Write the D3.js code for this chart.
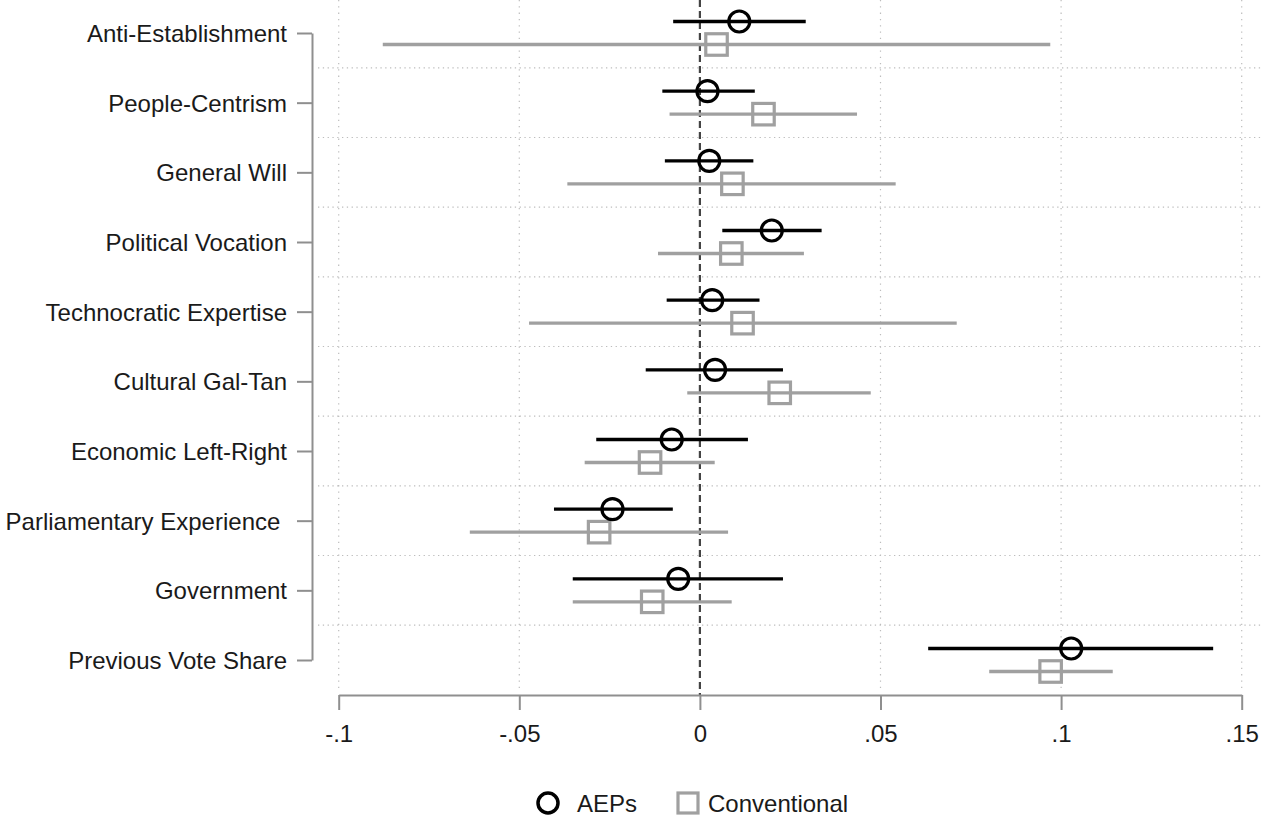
<!DOCTYPE html>
<html>
<head>
<meta charset="utf-8">
<script src="https://cdn.jsdelivr.net/npm/d3@7"></script>
<style>
  body { margin: 0; background: #fff; }
  svg { display: block; font-family: "Liberation Sans", Arial, sans-serif; }
</style>
</head>
<body>
<svg id="chart" width="1263" height="816"></svg>
<script>
//Row labels, top to bottom//
var variables = ["Anti-Establishment", "People-Centrism", "General Will", "Political Vocation",
  "Technocratic Expertise", "Cultural Gal-Tan", "Economic Left-Right", "Parliamentary Experience\u00a0",
  "Government", "Previous Vote Share"];

//AEPs: estimate and confidence interval//
var aepEst = [0.0109, 0.0021, 0.0026, 0.0199, 0.0034, 0.0042, -0.0078, -0.0242, -0.0060, 0.1028];
var aepLo  = [-0.0074, -0.0104, -0.0097, 0.0062, -0.0092, -0.0150, -0.0287, -0.0404, -0.0352, 0.0632];
var aepHi  = [0.0293, 0.0152, 0.0148, 0.0337, 0.0165, 0.0230, 0.0133, -0.0075, 0.0230, 0.1421];

//Conventional parties: estimate and confidence interval//
var convEst = [0.0046, 0.0176, 0.0090, 0.0087, 0.0118, 0.0221, -0.0138, -0.0279, -0.0132, 0.0971];
var convLo  = [-0.0878, -0.0084, -0.0367, -0.0116, -0.0473, -0.0035, -0.0319, -0.0637, -0.0352, 0.0801];
var convHi  = [0.0970, 0.0435, 0.0542, 0.0288, 0.0711, 0.0473, 0.0041, 0.0078, 0.0088, 0.1143];

var xTicks = [-0.1, -0.05, 0, 0.05, 0.1, 0.15];
var xTickLabels = ["-.1", "-.05", "0", ".05", ".1", ".15"];

var black = "#000";
var gray = "#a0a0a0";
var axisGray = "#8f8f8f";
var fontSize = "24px";

var svg = d3.select("#chart");

var x = d3.scaleLinear().domain([-0.1, 0.15]).range([338.7, 1241.7]);
var y = d3.scalePoint().domain(variables).range([33, 660]);
var step = y.step();
var off = 11.5;

//Grid lines between rows//
var grid = svg.append("g");
grid.selectAll("line.h")
  .data(variables)
  .enter()
  .append("line")
  .attr("x1", 318)
  .attr("x2", 1263)
  .attr("y1", function(d) { return y(d) - step / 2; })
  .attr("y2", function(d) { return y(d) - step / 2; })
  .attr("stroke", "#bdbdbd")
  .attr("stroke-width", 1.2)
  .attr("stroke-dasharray", "1.3,3.5");

grid.selectAll("line.v")
  .data(xTicks.filter(function(d) { return d !== 0; }))
  .enter()
  .append("line")
  .attr("x1", function(d) { return x(d); })
  .attr("x2", function(d) { return x(d); })
  .attr("y1", 0)
  .attr("y2", 688)
  .attr("stroke", "#bdbdbd")
  .attr("stroke-width", 1.2)
  .attr("stroke-dasharray", "1.3,5");

//Zero reference line//
svg.append("line")
  .attr("x1", x(0))
  .attr("x2", x(0))
  .attr("y1", 0)
  .attr("y2", 695)
  .attr("stroke", "#444")
  .attr("stroke-width", 2.2)
  .attr("stroke-dasharray", "7,4");

//Y axis//
var yAxis = svg.append("g")
  .attr("transform", "translate(312,0)")
  .call(d3.axisLeft(y).tickSize(15).tickSizeOuter(0).tickPadding(10));
yAxis.select(".domain").attr("stroke", axisGray).attr("stroke-width", 2);
yAxis.selectAll(".tick line").attr("stroke", axisGray).attr("stroke-width", 2);
yAxis.selectAll(".tick text")
  .attr("font-size", fontSize)
  .attr("font-family", "Liberation Sans, Arial, sans-serif")
  .attr("fill", "#1a1a1a")
  .attr("dy", "0.36em");

//X axis//
var xAxis = svg.append("g")
  .attr("transform", "translate(0,695)")
  .call(d3.axisBottom(x)
    .tickValues(xTicks)
    .tickFormat(function(d, i) { return xTickLabels[i]; })
    .tickSize(15).tickSizeOuter(0).tickPadding(15));
xAxis.select(".domain").attr("stroke", axisGray).attr("stroke-width", 2);
xAxis.selectAll(".tick line").attr("stroke", axisGray).attr("stroke-width", 2);
xAxis.selectAll(".tick text")
  .attr("font-size", fontSize)
  .attr("font-family", "Liberation Sans, Arial, sans-serif")
  .attr("fill", "#1a1a1a");

//Confidence intervals//
svg.selectAll("line.ciConv")
  .data(variables)
  .enter()
  .append("line")
  .attr("x1", function(d, i) { return x(convLo[i]); })
  .attr("x2", function(d, i) { return x(convHi[i]); })
  .attr("y1", function(d) { return y(d) + off; })
  .attr("y2", function(d) { return y(d) + off; })
  .attr("stroke", gray)
  .attr("stroke-width", 3.4);

svg.selectAll("line.ciAep")
  .data(variables)
  .enter()
  .append("line")
  .attr("x1", function(d, i) { return x(aepLo[i]); })
  .attr("x2", function(d, i) { return x(aepHi[i]); })
  .attr("y1", function(d) { return y(d) - off; })
  .attr("y2", function(d) { return y(d) - off; })
  .attr("stroke", black)
  .attr("stroke-width", 3.4);

//Point estimates//
var sq = 21.5;
svg.selectAll("rect.conv")
  .data(variables)
  .enter()
  .append("rect")
  .attr("x", function(d, i) { return x(convEst[i]) - sq / 2; })
  .attr("y", function(d) { return y(d) + off - sq / 2; })
  .attr("width", sq)
  .attr("height", sq)
  .attr("fill", "none")
  .attr("stroke", gray)
  .attr("stroke-width", 3.2);

svg.selectAll("circle.aep")
  .data(variables)
  .enter()
  .append("circle")
  .attr("cx", function(d, i) { return x(aepEst[i]); })
  .attr("cy", function(d) { return y(d) - off; })
  .attr("r", 10.5)
  .attr("fill", "none")
  .attr("stroke", black)
  .attr("stroke-width", 3.2);

//Legend//
var legend = svg.append("g");
legend.append("circle")
  .attr("cx", 548)
  .attr("cy", 803)
  .attr("r", 10)
  .attr("fill", "none")
  .attr("stroke", black)
  .attr("stroke-width", 3.5);
legend.append("text")
  .attr("x", 577)
  .attr("y", 803)
  .attr("dy", "0.36em")
  .attr("font-size", fontSize)
  .attr("fill", "#1a1a1a")
  .text("AEPs");
legend.append("rect")
  .attr("x", 678)
  .attr("y", 793)
  .attr("width", 20)
  .attr("height", 20)
  .attr("fill", "none")
  .attr("stroke", gray)
  .attr("stroke-width", 3.2);
legend.append("text")
  .attr("x", 708)
  .attr("y", 803)
  .attr("dy", "0.36em")
  .attr("font-size", fontSize)
  .attr("fill", "#1a1a1a")
  .text("Conventional");
</script>
</body>
</html>
